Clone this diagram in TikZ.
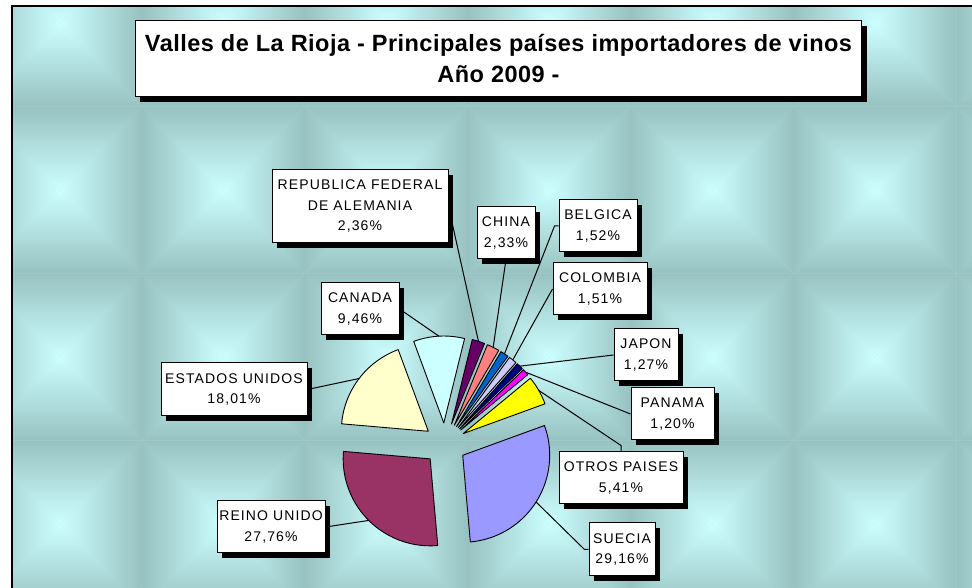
\documentclass[tikz,border=0pt]{standalone}
\usepackage{fontspec}
\setmainfont{Liberation Sans}
\newfontfamily\lblfam[LetterSpace=8]{Liberation Sans}
\newfontfamily\ttlfam[LetterSpace=2]{Liberation Sans}
\usetikzlibrary{calc,shadows}
\definecolor{bgedge}{HTML}{98C2C2}
\definecolor{bgmid}{HTML}{B2DFDF}
\definecolor{bgcenter}{HTML}{CCFFFF}
\definecolor{cSue}{HTML}{9999FF}
\definecolor{cRei}{HTML}{993366}
\definecolor{cEeu}{HTML}{FFFFCC}
\definecolor{cCan}{HTML}{CCFFFF}
\definecolor{cAle}{HTML}{660066}
\definecolor{cChi}{HTML}{FF8080}
\definecolor{cBel}{HTML}{0066CC}
\definecolor{cCol}{HTML}{CCCCFF}
\definecolor{cJap}{HTML}{000080}
\definecolor{cPan}{HTML}{FF00FF}
\definecolor{cOtr}{HTML}{FFFF00}
\newcommand{\bgtile}[2]{%
  \shade[top color=bgedge, bottom color=bgcenter, middle color=bgmid]
    ({#1-81.5},{#2+83.5}) -- ({#1+81.5},{#2+83.5}) -- (#1,#2) -- cycle;
  \shade[top color=bgcenter, bottom color=bgedge, middle color=bgmid]
    ({#1-81.5},{#2-83.5}) -- ({#1+81.5},{#2-83.5}) -- (#1,#2) -- cycle;
  \shade[left color=bgedge, right color=bgcenter, middle color=bgmid]
    ({#1-81.5},{#2-83.5}) -- ({#1-81.5},{#2+83.5}) -- (#1,#2) -- cycle;
  \shade[left color=bgcenter, right color=bgedge, middle color=bgmid]
    ({#1+81.5},{#2-83.5}) -- ({#1+81.5},{#2+83.5}) -- (#1,#2) -- cycle;
}
\newcommand{\pieslice}[4]{%
  \pgfmathsetmacro{\slmid}{(#1+#2)/2}
  \draw[slicestyle, fill=#3] ($(pc)+(\slmid:21)$) -- ++(#1:87)
    arc[start angle=#1, end angle=#2, radius=87] -- cycle;
  \coordinate (#4) at ($(pc)+(\slmid:108)$);
}
\tikzset{
  slicestyle/.style={draw=black, line width=0.9pt, line join=round},
  boxshadow/.style={drop shadow={shadow xshift=5pt, shadow yshift=-5pt, fill=black, opacity=1}},
  lbl/.style={draw=black, line width=1pt, fill=white, inner sep=0pt, align=center,
    boxshadow, font=\lblfam\fontsize{14}{20.5}\selectfont},
  leader/.style={draw=black, line width=1pt},
}
\begin{document}
\begin{tikzpicture}[x=1pt, y=1pt]
\useasboundingbox (0,0) rectangle (972,588);
\fill[white] (0,0) rectangle (972,588);
% background tiles
\begin{scope}
  \clip (11.5,0) rectangle (972,581.5);
  \fill[bgmid] (11.5,0) rectangle (972,581.5);
  \foreach \cx in {60,223,386,549,712,875,1038}{
    \foreach \py in {23,190,357,524}{
      \bgtile{\cx}{588-\py}
    }
  }
\end{scope}
\draw[line width=2pt] (11.5,0) -- (11.5,581.5) -- (972,581.5);
% title
\node[draw=black, line width=1.5pt, fill=white, inner sep=0pt, align=center,
  minimum width=726.4pt, minimum height=76pt, boxshadow,
  font=\ttlfam\bfseries\fontsize{23.5}{31}\selectfont] (title) at (498.5,529.3)
  {Valles de La Rioja - Principales países importadores de vinos\\Año 2009 -};
% pie
\coordinate (pc) at (445,144);
\pieslice{20}{-84.976}{cSue}{sSue}
\pieslice{-84.976}{-184.912}{cRei}{sRei}
\pieslice{-184.912}{-249.748}{cEeu}{sEeu}
\pieslice{-249.748}{-283.804}{cCan}{sCan}
\pieslice{-283.804}{-292.300}{cAle}{sAle}
\pieslice{-292.300}{-300.688}{cChi}{sChi}
\pieslice{-300.688}{-306.160}{cBel}{sBel}
\pieslice{-306.160}{-311.596}{cCol}{sCol}
\pieslice{-311.596}{-316.168}{cJap}{sJap}
\pieslice{-316.168}{-320.488}{cPan}{sPan}
\pieslice{-320.488}{-340}{cOtr}{sOtr}
% labels
\node[lbl, minimum width=176pt, minimum height=73pt] (ale) at (360,381.5) {REPUBLICA FEDERAL\\DE ALEMANIA\\2,36\%};
\node[lbl, minimum width=58pt, minimum height=52pt] (chi) at (506,355) {CHINA\\2,33\%};
\node[lbl, minimum width=78pt, minimum height=52pt] (bel) at (598,362) {BELGICA\\1,52\%};
\node[lbl, minimum width=94pt, minimum height=52pt] (col) at (600,299) {COLOMBIA\\1,51\%};
\node[lbl, minimum width=78pt, minimum height=52pt] (can) at (360,279) {CANADA\\9,46\%};
\node[lbl, minimum width=64pt, minimum height=52pt] (jap) at (646,233) {JAPON\\1,27\%};
\node[lbl, minimum width=83pt, minimum height=52pt] (pan) at (672.5,174) {PANAMA\\1,20\%};
\node[lbl, minimum width=124pt, minimum height=52pt] (otr) at (621,110) {OTROS PAISES\\5,41\%};
\node[lbl, minimum width=66pt, minimum height=53pt] (sue) at (622,38.5) {SUECIA\\29,16\%};
\node[lbl, minimum width=146pt, minimum height=53pt] (eeu) at (234,198.5) {ESTADOS UNIDOS\\18,01\%};
\node[lbl, minimum width=108pt, minimum height=52pt] (rei) at (271,61) {REINO UNIDO\\27,76\%};
% leader lines
\draw[leader] (sAle) -- (ale.east);
\draw[leader] (sChi) -- (chi.south);
\draw[leader] (sBel) -- ([xshift=-4pt]bel.west) -- (bel.west);
\draw[leader] (sCol) -- (col.west);
\draw[leader] (sCan) -- (can.east);
\draw[leader] (sJap) -- (jap.west);
\draw[leader] (sPan) -- (pan.west);
\draw[leader] (sOtr) -- ([yshift=6pt]otr.north) -- (otr.north);
\draw[leader] (sSue) -- ([xshift=-4pt]sue.west) -- (sue.west);
\draw[leader] (sEeu) -- (eeu.east);
\draw[leader] (sRei) -- (rei.east);
\end{tikzpicture}
\end{document}
